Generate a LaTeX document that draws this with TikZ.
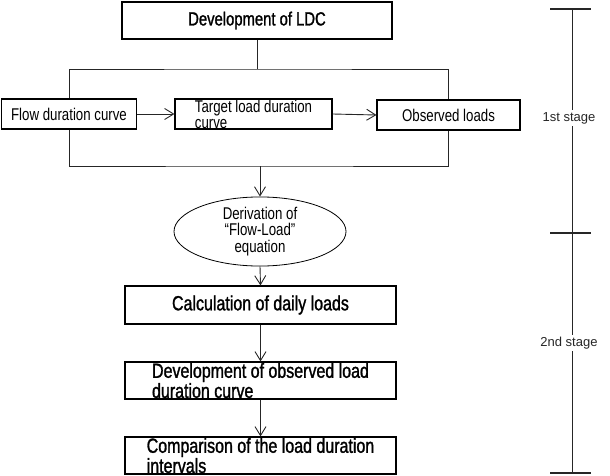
\documentclass[tikz,border=0pt]{standalone}
\usepackage{fontspec}
\setmainfont{Liberation Sans}[FakeStretch=0.78]
\newfontfamily\heavyfont{Liberation Sans}[FakeStretch=0.78,FakeBold=1.3]
\newfontfamily\plainfont{Liberation Sans}
\usetikzlibrary{arrows.meta,shapes.geometric}
\begin{document}
\begin{tikzpicture}[x=1pt,y=-1pt,>={Straight Barb[length=9pt,width=11pt]},
    box/.style={draw,line width=1.1pt,inner sep=0pt},
    line/.style={line width=0.9pt,draw=black!85},
    small/.style={font=\fontsize{17}{16}\selectfont},
    big/.style={font=\heavyfont\fontsize{20.5}{18}\selectfont},
    stage/.style={fill=white,inner sep=2pt,font=\plainfont\fontsize{13}{14}\selectfont,text=black!85}]
  \useasboundingbox (0,0) rectangle (610,476);
  % first stage
  \node[box,minimum width=270pt,minimum height=37pt,font=\heavyfont\fontsize{19}{18}\selectfont] (top) at (257,20.5) {Development of LDC};
  \node[box,small,minimum width=135pt,minimum height=30pt] (flow) at (69,114) {Flow duration curve};
  \node[box,small,minimum width=157pt,minimum height=30pt,align=left] (target) at (253.5,114) {Target load duration\\curve};
  \node[box,small,minimum width=143pt,minimum height=30pt] (observed) at (448.5,115) {Observed loads};
  \node[draw,line width=0.8pt,ellipse,inner sep=0pt,minimum width=172pt,minimum height=48pt,align=center,font=\fontsize{17}{16.5}\selectfont] (deriv) at (260,231.5) {Derivation of\\“Flow-Load”\\equation};
  \coordinate (tj) at (257,69);
  \coordinate (bj) at (260,166);
  \draw[line] (top.south) -- (tj);
  \draw[line] (flow.north) |- (tj) -| (observed.north);
  \draw[line] (flow.south) |- (bj) -| (observed.south);
  \draw[line,->] (flow.east) -- (target.west);
  \draw[line,->] (target.east) -- (observed.west);
  \draw[line,->] (bj) -- (deriv.north);
  % second stage
  \node[box,big,minimum width=271pt,minimum height=38pt] (calc) at (260.5,305) {Calculation of daily loads};
  \node[box,big,minimum width=271pt,minimum height=37pt,align=left] (devobs) at (260.5,380.5) {Development of observed load\\duration curve};
  \node[box,big,minimum width=271pt,minimum height=37pt,align=left] (comp) at (260.5,455.5) {Comparison of the load duration\\intervals};
  \draw[line,->] (deriv.south) -- (calc.north);
  \draw[line,->] (calc.south) -- (devobs.north);
  \draw[line,->] (devobs.south) -- (comp.north);
  % stage bar
  \coordinate (s1) at (572,9);
  \coordinate (s2) at (572,233);
  \coordinate (s3) at (572,473);
  \draw[line] (s1) -- (s3);
  \foreach \s in {s1,s2,s3}
    \draw[line width=2.4pt,draw=black!85] (\s) ++(-22,0) -- ++(41,0);
  \node[stage] (st1) at (569,118) {1st stage};
  \node[stage] (st2) at (569,343) {2nd stage};
\end{tikzpicture}
\end{document}
